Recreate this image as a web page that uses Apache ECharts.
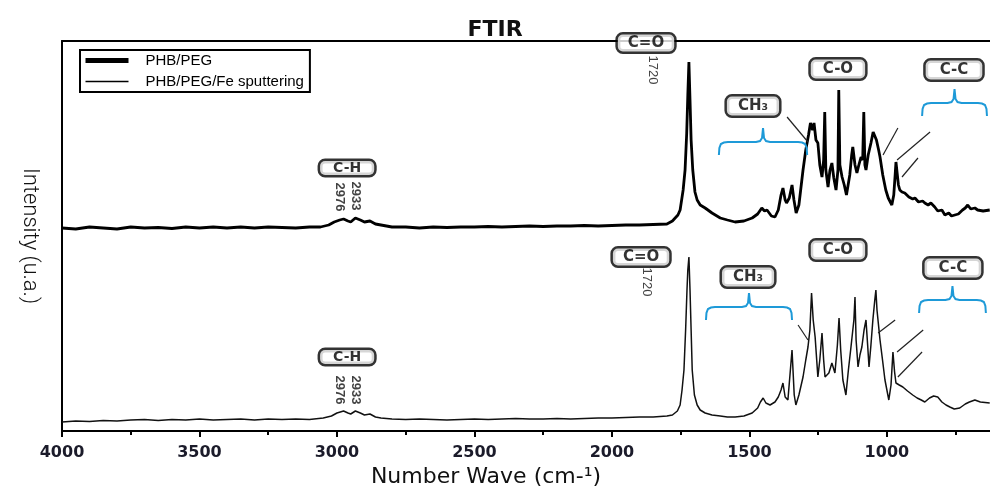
<!DOCTYPE html>
<html lang="en">
<head>
    <meta charset="utf-8">
    <title>FTIR</title>
    <style>
        html, body { margin: 0; padding: 0; background: #fff; }
        #ftir-chart { width: 990px; height: 486px; }
    </style>
</head>
<body>
<div id="ftir-chart"></div>

<script src="https://cdn.jsdelivr.net/npm/echarts@6/dist/echarts.min.js"></script>
<script>
    // 波数 (cm-1) 与强度，读自原图
    const topWave = [4000, 3950, 3900, 3850, 3800, 3750, 3700, 3650, 3600, 3550, 3500, 3450, 3400, 3350, 3300, 3250,
        3200, 3150, 3100, 3060, 3030, 3010, 2990, 2976, 2960, 2950, 2933, 2915, 2900, 2880, 2860, 2840, 2820, 2800,
        2750, 2700, 2650, 2600, 2550, 2500, 2450, 2400, 2350, 2300, 2250, 2200, 2150, 2100, 2050, 2000, 1950, 1900,
        1850, 1800, 1780, 1760, 1752, 1741, 1734, 1728, 1724, 1720, 1716, 1712, 1706, 1698, 1690, 1679, 1661, 1636,
        1606, 1580, 1552, 1520, 1490, 1470, 1455, 1445, 1436, 1420, 1407, 1395, 1385, 1378, 1370, 1365, 1355, 1345,
        1338, 1330, 1320, 1305, 1295, 1285, 1278, 1270, 1265, 1258, 1251, 1244, 1236, 1230, 1226, 1222, 1214, 1207,
        1200, 1193, 1185, 1178, 1175, 1171, 1163, 1155, 1147, 1142, 1135, 1128, 1124, 1116, 1109, 1102, 1094, 1088,
        1084, 1080, 1076, 1068, 1058, 1050, 1044, 1038, 1030, 1025, 1015, 1004, 995, 982, 975, 970, 967, 962, 958,
        953, 945, 935, 920, 906, 898, 885, 870, 862, 850, 840, 826, 815, 800, 789, 775, 765, 753, 740, 725, 715, 706,
        695, 680, 670, 650, 626];
    const topInt = [0, -1, 1, 0, -1, 1, 0, 0.5, -0.5, 1, 0, 1, 0, 1, 0, 1,
        0.5, 0, 1, 1, 3, 6, 8, 9, 7, 6, 10, 8, 6, 7, 4, 3, 2, 1,
        1, 0, 1, 0.5, 1, 1, 1.5, 1, 1.5, 2, 1.5, 2, 2, 2.5, 2, 2.5, 3, 3,
        3.5, 4, 7, 13, 18, 38, 58, 95, 133, 166, 128, 88, 58, 36, 28, 23, 20, 15,
        10, 8, 6, 7, 10, 14, 20, 17, 18, 12, 11, 18, 33, 40, 28, 25, 30, 43,
        28, 15, 23, 58, 78, 93, 105, 98, 105, 88, 85, 63, 51, 68, 116, 58, 41, 58,
        65, 50, 38, 58, 138, 63, 51, 43, 33, 31, 53, 73, 81, 63, 55, 63, 71, 68,
        116, 63, 58, 73, 85, 96, 98, 88, 78, 71, 53, 38, 30, 23, 33, 53, 66, 53, 43,
        38, 36, 35, 31, 29, 30, 26, 27, 25, 23, 25, 21, 17, 18, 13, 15, 12, 13, 14, 18, 20, 23,
        19, 20, 18, 17, 18];
    const bottomWave = [4000, 3950, 3900, 3850, 3800, 3750, 3700, 3650, 3600, 3550, 3500, 3450, 3400, 3350, 3300, 3250,
        3200, 3150, 3100, 3050, 3020, 3000, 2976, 2960, 2950, 2933, 2915, 2900, 2880, 2860, 2840, 2800, 2750, 2700,
        2650, 2600, 2550, 2500, 2450, 2400, 2350, 2300, 2250, 2200, 2150, 2100, 2050, 2000, 1950, 1900, 1850, 1800,
        1780, 1762, 1752, 1745, 1738, 1732, 1727, 1724, 1720, 1716, 1712, 1708, 1700, 1690, 1679, 1661, 1636, 1606,
        1580, 1552, 1520, 1490, 1470, 1460, 1450, 1440, 1425, 1407, 1395, 1385, 1378, 1370, 1360, 1345, 1341, 1337,
        1331, 1320, 1305, 1295, 1287, 1280, 1274, 1268, 1261, 1251, 1244, 1236, 1230, 1225, 1211, 1200, 1189, 1180,
        1174, 1168, 1160, 1149, 1140, 1131, 1120, 1116, 1112, 1105, 1098, 1091, 1083, 1076, 1070, 1065, 1058, 1051,
        1044, 1040, 1036, 1025, 1015, 1007, 993, 985, 978, 972, 967, 955, 942, 925, 906, 890, 875, 862, 845, 830,
        815, 800, 785, 771, 755, 735, 715, 700, 680, 660, 626];
    const bottomInt = [-2, -1, -1.5, -0.5, -1, 0, 0.5, -0.5, 0.5, 0, 1, 0, 0.5, 1, 0, 1,
        0.5, 1, 0.5, 2, 4, 7, 9, 7, 6, 9, 7, 5, 6, 3, 2, 1, 0.5, 1,
        0.5, 0, 0.5, 1, 0.5, 1, 1.5, 1, 1, 1.5, 1, 1.5, 2, 2, 2.5, 3, 3, 4,
        5, 9, 15, 30, 50, 90, 130, 150, 163, 130, 90, 50, 25, 15, 10, 7, 5, 4,
        3, 3, 4, 7, 12, 18, 22, 17, 15, 18, 23, 30, 37, 23, 20, 70, 72, 25,
        15, 25, 43, 60, 73, 90, 127, 100, 83, 43, 60, 87, 60, 43, 47, 57, 47, 75,
        102, 70, 40, 25, 50, 72, 100, 123, 80, 53, 65, 73, 90, 100, 75, 53, 75, 100,
        120, 130, 110, 80, 58, 40, 20, 35, 68, 48, 37, 35, 33, 29, 25, 22, 20, 18, 22, 24,
        23, 18, 15, 13, 11, 12, 16, 18, 20, 18, 17];
    const topShift = 192;   // 上面一条谱线的堆叠偏移
    const xTicks = [4000, 3500, 3000, 2500, 2000, 1500, 1000];
    const xMinorTicks = [3750, 3250, 2750, 2250, 1750, 1250, 750];

    // 标注: [波数, 强度, 文字]
    const boxNotes = [
        [1876, 377, 'C=O'], [1178, 351, 'C-O'], [756, 350, 'C-C'], [1487, 314, 'CH₃'], [2963, 252, 'C-H'],
        [1894, 163, 'C=O'], [1178, 170, 'C-O'], [760, 152, 'C-C'], [1505, 143, 'CH₃'], [2963, 63, 'C-H']
    ];
    const numNotes = [
        [1852, 350, '1720', 'normal'], [2989, 223, '2976', 'bold'], [2934, 224, '2933', 'bold'],
        [1874, 138, '1720', 'normal'], [2989, 30, '2976', 'bold'], [2934, 30, '2933', 'bold']
    ];
    // 花括号: [左波数, 右波数, 高度]
    const braces = [[1611, 1290, 278], [872, 636, 317], [1658, 1345, 113], [883, 640, 120]];
    // 引线: [波数1, 强度1, 波数2, 强度2]
    const leaders = [
        [1363, 303, 1287, 278], [960, 292, 1014, 265], [843, 288, 963, 260], [887, 262, 945, 243],
        [1323, 95, 1287, 80], [970, 100, 1032, 87], [868, 90, 963, 68], [872, 68, 960, 43]
    ];

    const padMap = {'C=O': [1, 10], 'C-O': [2, 12], 'C-C': [2, 14], 'CH₃': [2, 11], 'C-H': [0, 13]};

    let topData = topWave.map((w, i) => [w, topInt[i] + topShift]);
    let bottomData = bottomWave.map((w, i) => [w, bottomInt[i]]);

    let chart = echarts.init(document.getElementById('ftir-chart'));

    function braceItem(params, api) {
        let a = api.coord([api.value(0), api.value(2)]);
        let b = api.coord([api.value(1), api.value(2)]);
        let x0 = Math.min(a[0], b[0]), x1 = Math.max(a[0], b[0]), y = a[1];
        let xm = (x0 + x1) / 2;
        let pts = [
            [x0, y + 13], [x0 + 0.5, y + 6], [x0 + 2, y + 2], [x0 + 5, y + 0.5], [x0 + 9, y],
            [xm - 7, y], [xm - 3, y - 1], [xm - 1, y - 4], [xm, y - 14],
            [xm + 1, y - 4], [xm + 3, y - 1], [xm + 7, y],
            [x1 - 9, y], [x1 - 5, y + 0.5], [x1 - 2, y + 2], [x1 - 0.5, y + 6], [x1, y + 13]
        ];
        return {
            type: 'polyline',
            shape: {points: pts},
            style: {fill: null, stroke: '#1e9ad8', lineWidth: 2}
        };
    }

    function leaderItem(params, api) {
        let p1 = api.coord([api.value(0), api.value(1)]);
        let p2 = api.coord([api.value(2), api.value(3)]);
        return {
            type: 'line',
            shape: {x1: p1[0], y1: p1[1], x2: p2[0], y2: p2[1]},
            style: {stroke: '#222', lineWidth: 1.2}
        };
    }

    let option = {
        animation: false,
        backgroundColor: '#fff',
        title: {
            text: 'FTIR',
            left: 'center',
            top: 14,
            textStyle: {fontFamily: 'DejaVu Sans', fontWeight: 'bold', fontSize: 22, color: '#111'}
        },
        legend: {
            left: 80,
            top: 50,
            orient: 'vertical',
            borderColor: '#000',
            borderWidth: 2,
            padding: [3, 6, 3, 3],
            itemGap: 6,
            itemWidth: 43,
            itemHeight: 14,
            textStyle: {fontFamily: 'Liberation Sans', fontSize: 15, color: '#000', padding: [0, 0, 0, 12]},
            data: [
                {name: 'PHB/PEG', itemStyle: {opacity: 0}, lineStyle: {width: 5, color: '#000'}},
                {name: 'PHB/PEG/Fe sputtering', itemStyle: {opacity: 0}, lineStyle: {width: 1.5, color: '#000'}}
            ]
        },
        grid: {left: 62, right: 0, top: 41, bottom: 55, containLabel: false, outerBoundsMode: 'none'},
        xAxis: [
            {
                type: 'value',
                position: 'bottom',
                inverse: true,
                min: 625,
                max: 4000,
                name: 'Number Wave (cm-¹)',
                nameLocation: 'middle',
                nameGap: 26,
                nameTextStyle: {fontFamily: 'DejaVu Sans', fontSize: 22, color: '#111', padding: [0, 80, 0, 0]},
                axisLine: {onZero: false, lineStyle: {color: '#000', width: 2}},
                axisTick: {length: 6, lineStyle: {color: '#000', width: 2}, customValues: xTicks},
                axisLabel: {
                    customValues: xTicks,
                    formatter: v => String(v),
                    margin: 14,
                    fontFamily: 'DejaVu Sans',
                    fontWeight: 'bold',
                    fontSize: 16,
                    color: '#1b1b2a'
                },
                splitLine: {show: false}
            },
            {
                type: 'value',
                position: 'bottom',
                offset: 0,
                inverse: true,
                min: 625,
                max: 4000,
                axisLine: {show: false, onZero: false},
                axisTick: {length: 4, lineStyle: {color: '#000', width: 2}, customValues: xMinorTicks},
                axisLabel: {show: false},
                splitLine: {show: false}
            },
            {
                type: 'value',
                position: 'top',
                inverse: true,
                min: 625,
                max: 4000,
                axisLine: {onZero: false, lineStyle: {color: '#000', width: 2}},
                axisTick: {show: false},
                axisLabel: {show: false},
                splitLine: {show: false}
            }
        ],
        yAxis: {
            type: 'value',
            min: -11,
            max: 379,
            name: 'Intensity (u.a.)',
            nameLocation: 'middle',
            nameRotate: -90,
            nameGap: 22,
            nameTextStyle: {fontFamily: 'Roboto', fontWeight: 300, fontSize: 22, color: '#111'},
            axisLine: {show: true, onZero: false, lineStyle: {color: '#000', width: 2}},
            axisTick: {show: false},
            axisLabel: {show: false},
            splitLine: {show: false}
        },
        series: [
            {
                name: 'PHB/PEG',
                type: 'line',
                data: topData,
                symbol: 'none',
                itemStyle: {color: '#000'},
                lineStyle: {color: '#000', width: 2.8},
                z: 3
            },
            {
                name: 'PHB/PEG/Fe sputtering',
                type: 'line',
                data: bottomData,
                symbol: 'none',
                itemStyle: {color: '#000'},
                lineStyle: {color: '#111', width: 1.5},
                z: 3
            },
            {
                name: 'braces',
                type: 'custom',
                renderItem: braceItem,
                data: braces,
                z: 4
            },
            {
                name: 'leaders',
                type: 'custom',
                renderItem: leaderItem,
                data: leaders,
                z: 4
            },
            {
                name: 'boxes',
                type: 'scatter',
                symbolSize: 0,
                z: 5,
                data: boxNotes.map(n => ({
                    value: [n[0], n[1]],
                    name: n[2],
                    label: {padding: padMap[n[2]], fontSize: n[2] === 'C-H' ? 14 : 15}
                })),
                label: {
                    show: true,
                    position: 'inside',
                    formatter: '{b}',
                    fontFamily: 'DejaVu Sans',
                    fontWeight: 'bold',
                    color: '#000',
                    backgroundColor: '#fff',
                    borderColor: '#000',
                    borderWidth: 2.5,
                    borderRadius: 5
                }
            },
            {
                name: 'numbers',
                type: 'scatter',
                symbolSize: 0,
                z: 5,
                data: numNotes.map(n => ({
                    value: [n[0], n[1]],
                    name: n[2],
                    label: {fontWeight: n[3]}
                })),
                label: {
                    show: true,
                    position: 'inside',
                    formatter: '{b}',
                    rotate: -90,
                    fontFamily: 'Liberation Sans Narrow, Liberation Sans',
                    fontSize: 13,
                    color: '#111'
                }
            }
        ]
    };

    chart.setOption(option);
</script>
</body>
</html>
